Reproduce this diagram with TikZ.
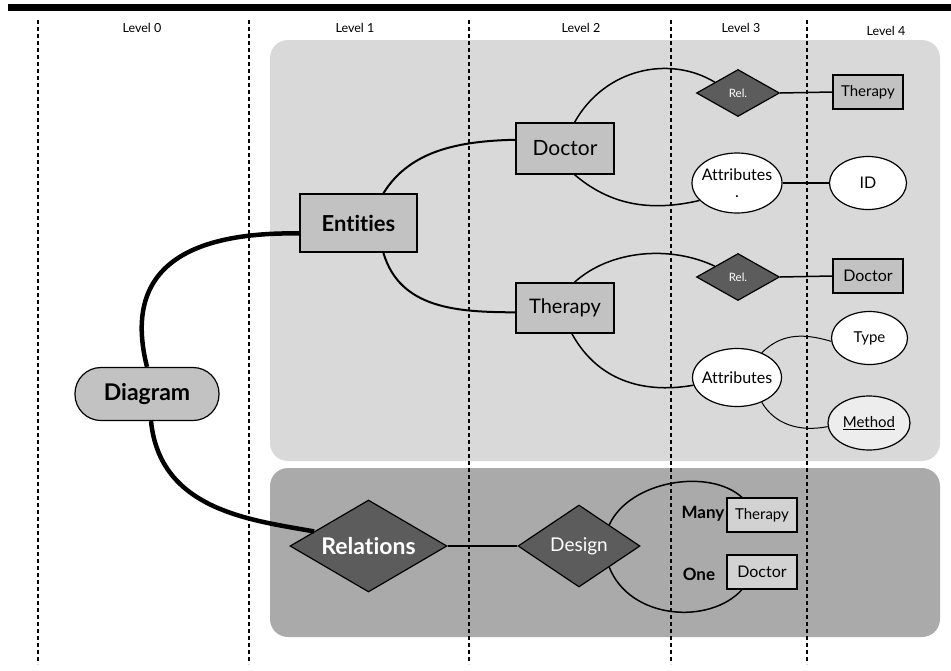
\documentclass[tikz,border=0pt]{standalone}
\usepackage{fontspec}
\setmainfont[Ligatures=NoCommon]{Lato}
\usetikzlibrary{shapes.geometric}
\definecolor{panelA}{HTML}{D9D9D9}
\definecolor{panelB}{HTML}{AAAAAA}
\definecolor{boxfill}{HTML}{C2C2C2}
\definecolor{diafill}{HTML}{5C5C5C}
\definecolor{methfill}{HTML}{EDEDED}
\definecolor{smallbox}{HTML}{D2D2D2}
\begin{document}
\begin{tikzpicture}[x=1pt,y=-1pt,
  ebox/.style={draw, line width=1.2pt, fill=boxfill, rectangle, inner sep=0pt},
  sbox/.style={draw, line width=1.2pt, fill=smallbox, rectangle, inner sep=0pt, minimum width=70pt, minimum height=34pt, font=\fontsize{15}{17}\selectfont},
  relbox/.style={diamond, draw, line width=1.2pt, fill=diafill, text=white, inner sep=0pt},
  ell/.style={ellipse, draw, line width=1.2pt, fill=white, inner xsep=-8pt, inner ysep=0pt},
  lvl/.style={font=\fontsize{12.5}{14}\selectfont, inner sep=0pt},
  levline/.style={line width=1.2pt, dash pattern=on 4pt off 3pt},
  conn/.style={line width=1.5pt},
  thin/.style={line width=1pt}]
\useasboundingbox (0,0) rectangle (951,670);
% top bar
\fill (8,4) rectangle (951,11);
% panels
\fill[panelA, rounded corners=18pt] (270,40) rectangle (940,461);
\fill[panelB, rounded corners=18pt] (270,468) rectangle (940,637);
% level lines
\foreach \x in {38,249,469,671,807} \draw[levline] (\x,20) -- (\x,664);
% level labels
\node[lvl] (l0) at (142,28) {Level 0};
\node[lvl] (l1) at (355,28) {Level 1};
\node[lvl] (l2) at (581,28) {Level 2};
\node[lvl] (l3) at (741,28) {Level 3};
\node[lvl] (l4) at (886,31) {Level 4};
% nodes
\node[ebox, rounded corners=26pt, minimum width=144pt, minimum height=53pt, font=\bfseries\fontsize{23}{26}\selectfont] (dia) at (147,394) {Diagram};
\node[ebox, minimum width=117pt, minimum height=58pt, font=\bfseries\fontsize{22}{26}\selectfont] (ent) at (358.5,223) {Entities};
\node[ebox, minimum width=98pt, minimum height=51pt, font=\fontsize{21}{24}\selectfont] (doc) at (565,148.5) {Doctor};
\node[ebox, minimum width=98pt, minimum height=50pt, font=\fontsize{20}{24}\selectfont] (ther) at (565,308) {Therapy};
\node[relbox, minimum width=83pt, minimum height=47pt, font=\fontsize{11.5}{13}\selectfont] (rel1) at (738,93) {Rel.};
\node[ebox, minimum width=70pt, minimum height=34pt, font=\fontsize{15}{17}\selectfont] (t4) at (868,92) {Therapy};
\node[ell, minimum width=90pt, minimum height=60pt, align=center, font=\fontsize{16}{19}\selectfont] (att1) at (737,183) {Attributes\\[-2pt].};
\node[ell, minimum width=77pt, minimum height=53pt, font=\fontsize{16}{19}\selectfont] (id) at (868,183) {ID};
\node[relbox, minimum width=83pt, minimum height=47pt, font=\fontsize{11.5}{13}\selectfont] (rel2) at (738,277) {Rel.};
\node[ebox, minimum width=70pt, minimum height=34pt, font=\fontsize{16}{18}\selectfont] (d4) at (868,276) {Doctor};
\node[ell, minimum width=76pt, minimum height=53pt, font=\fontsize{15}{17}\selectfont] (type) at (869.5,338) {Type};
\node[ell, minimum width=89pt, minimum height=58pt, font=\fontsize{16}{18}\selectfont] (att2) at (737,377.5) {Attributes};
\node[ell, fill=methfill, minimum width=82pt, minimum height=54pt, font=\fontsize{15}{17}\selectfont] (meth) at (869,423) {\underline{Method}};
\node[relbox, minimum width=157pt, minimum height=92pt, shape aspect=1.7, font=\bfseries\fontsize{23}{26}\selectfont] (rel) at (368.5,546) {Relations};
\node[relbox, minimum width=122pt, minimum height=82pt, shape aspect=1.5, font=\fontsize{19}{22}\selectfont] (des) at (579,546) {Design};
\node[sbox] (mt) at (762,515) {Therapy};
\node[sbox, font=\fontsize{16}{18}\selectfont] (od) at (762,572) {Doctor};
\node[font=\bfseries\fontsize{17}{19}\selectfont, inner sep=0pt] (many) at (703,514) {Many};
\node[font=\bfseries\fontsize{17}{19}\selectfont, inner sep=0pt] (one) at (699,574) {One};
% connectors
\draw[line width=4.5pt] (dia.north) .. controls (120,260) and (200,232) .. (ent.190);
\draw[line width=4.5pt] ([xshift=4pt]dia.south) .. controls (160,510) and (250,520) .. (rel.165);
\draw[line width=2pt] (ent.50) .. controls (410,150) and (460,141) .. (doc.170);
\draw[line width=2pt] (ent.-50) .. controls (400,310) and (460,312) .. (ther.185);
\draw[conn] (doc.70) .. controls (605,68) and (670,55) .. (rel1.155);
\draw[conn] (doc.-70) .. controls (610,205) and (650,212) .. (att1.205);
\draw[conn] (rel1.east) -- (t4.west);
\draw[conn] (att1.east) -- (id.west);
\draw[conn] (ther.70) .. controls (610,250) and (670,245) .. (rel2.155);
\draw[conn] (ther.-75) .. controls (600,385) and (650,393) .. (att2.190);
\draw[conn] (rel2.east) -- (d4.west);
\draw[thin] (att2.45) .. controls (780,335) and (800,332) .. (type.185);
\draw[thin] (att2.-45) .. controls (775,425) and (800,432) .. (meth.185);
\draw[line width=2pt] (rel.east) -- (des.east -| des.west);
\draw[conn] (des.35) .. controls (630,480) and (710,468) .. ([xshift=-20pt]mt.north);
\draw[conn] (des.-35) .. controls (630,620) and (710,625) .. ([xshift=-20pt]od.south);
\end{tikzpicture}
\end{document}
